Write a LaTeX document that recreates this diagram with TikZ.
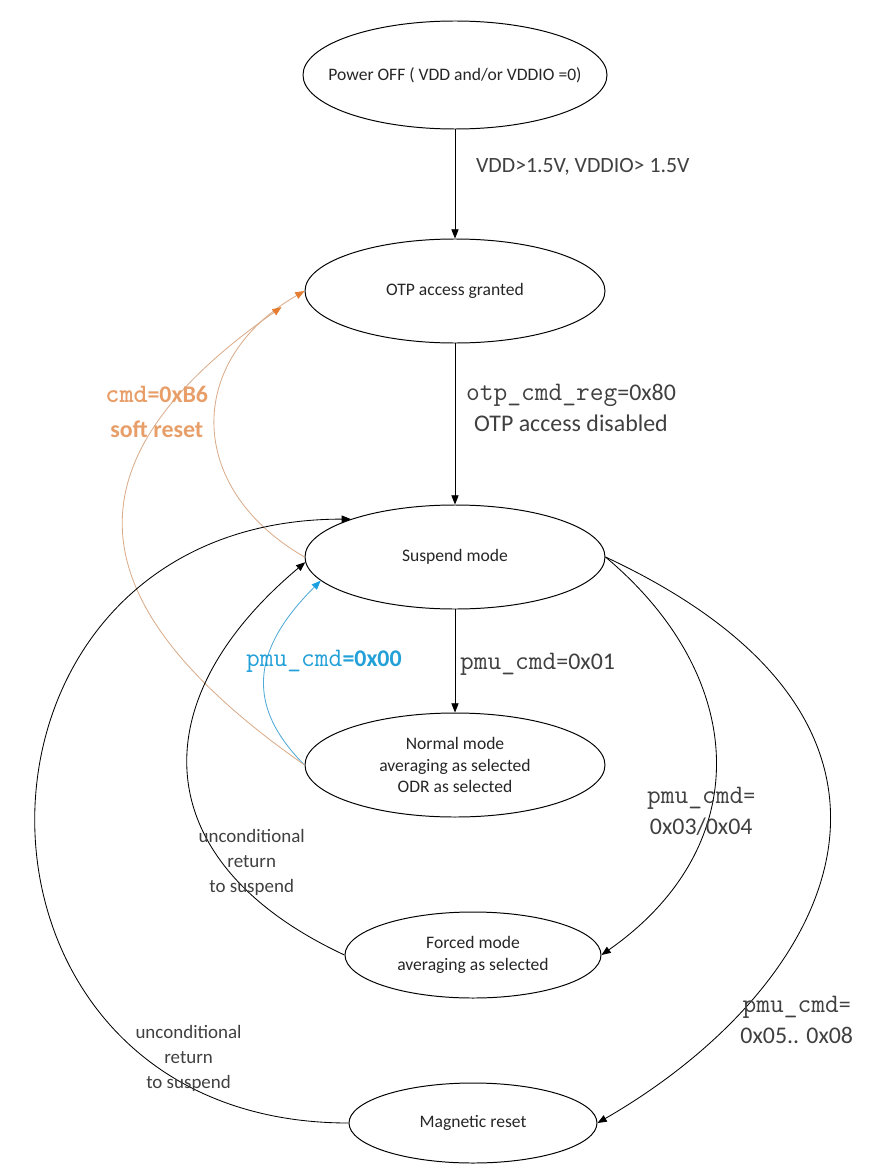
\documentclass[tikz,border=0pt]{standalone}
\usepackage{fontspec}
\setmainfont{Carlito}
\usetikzlibrary{shapes.geometric, arrows.meta, positioning}

\definecolor{softorange}{RGB}{218,172,138}
\definecolor{tiporange}{RGB}{228,125,50}
\definecolor{labelorange}{RGB}{232,158,105}
\definecolor{softblue}{RGB}{80,170,215}
\definecolor{tipblue}{RGB}{25,160,225}
\definecolor{labelblue}{RGB}{35,160,215}

\newcommand{\cmdtext}[1]{{\fontsize{19}{22}\selectfont\ttfamily #1}}

\tikzset{
  state/.style={draw, ellipse, line width=0.7pt, text=black!85, font=\fontsize{12.5}{15.5}\selectfont, align=center, inner sep=2pt, minimum width=7.5cm, minimum height=2.6cm},
  trans/.style={-{Triangle[length=2.3mm, width=1.8mm]}, line width=0.6pt},
  orangetrans/.style={trans, draw=softorange, -{Triangle[length=2.3mm, width=1.8mm, color=tiporange]}},
  bluetrans/.style={trans, draw=softblue, -{Triangle[length=2.3mm, width=1.8mm, color=tipblue]}},
  cond/.style={text=black!75, font=\fontsize{17}{22}\selectfont, align=center},
  note/.style={text=black!75, font=\fontsize{13.5}{18}\selectfont, align=center}
}

\begin{document}
\begin{tikzpicture}[node distance=5.2cm]
\useasboundingbox (-11.375,1.875) rectangle (10.7,-27.4);

\node (power) [state, minimum width=7.6cm, minimum height=2.7cm, inner xsep=-5.5mm] {Power OFF ( VDD and/or VDDIO =0)};
\node (otp) [state, below of=power, yshift=-2mm] {OTP access granted};
\node (suspend) [state, below of=otp, yshift=-14.5mm] {Suspend mode};
\node (normal) [state, below of=suspend] {Normal mode\\averaging as selected\\ODR as selected};
\node (forced) [state, below of=normal, xshift=4.5mm, yshift=4.5mm, minimum width=6.4cm, minimum height=2.15cm] {Forced mode\\averaging as selected};
\node (magnetic) [state, below of=forced, yshift=10mm, minimum width=6.2cm, minimum height=2cm] {Magnetic reset};

\draw[trans] (power) -- node[cond, right, pos=0.34, xshift=4mm, font=\fontsize{15.5}{18}\selectfont] {VDD>1.5V, VDDIO> 1.5V} (otp);
\draw[trans] (otp) -- node[cond, pos=0.4, xshift=2.9cm] {\cmdtext{otp\_cmd\_reg}=0x80\\OTP access disabled} (suspend);
\draw[trans] (suspend) -- node[cond, right, pos=0.53] {\cmdtext{pmu\_cmd}=0x01} (normal);

\draw[bluetrans] (normal.west) to[out=135, in=225, looseness=1.25] node[cond, pos=0.5, xshift=1.48cm, yshift=3mm, text=labelblue] {\cmdtext{pmu\_cmd}\textbf{=0x00}} (suspend.190);
\draw[orangetrans] (suspend.west) to[out=150, in=210, looseness=1.33] (otp.west);
\draw[orangetrans, shorten >=7mm] (normal.west) to[out=145, in=215, looseness=1.57] node[cond, pos=0.75, xshift=-3.5mm, text=labelorange, font=\fontsize{17}{25}\selectfont\bfseries] {\cmdtext{cmd}=0xB6\\soft reset} (otp.west);

\draw[trans] (forced.west) to[out=155, in=220, looseness=1.41] node[note, pos=0.25, xshift=5mm, yshift=3mm] {unconditional\\return\\to suspend} (suspend.182);
\draw[trans] (magnetic.west) to[out=180, in=180, looseness=1.77] node[note, pos=0.15, yshift=7mm] {unconditional\\return\\to suspend} (suspend.160);

\draw[trans] (suspend.east) to[out=-40, in=35, looseness=1.21] node[cond, pos=0.62, xshift=-2mm] {\cmdtext{pmu\_cmd}=\\0x03/0x04} (forced.east);
\draw[trans] (suspend.east) to[out=-25, in=30, out looseness=1.8, in looseness=1.25] node[cond, pos=0.75, xshift=11.5mm, yshift=-5mm] {\cmdtext{pmu\_cmd}=\\0x05.. 0x08} (magnetic.east);
\end{tikzpicture}
\end{document}
